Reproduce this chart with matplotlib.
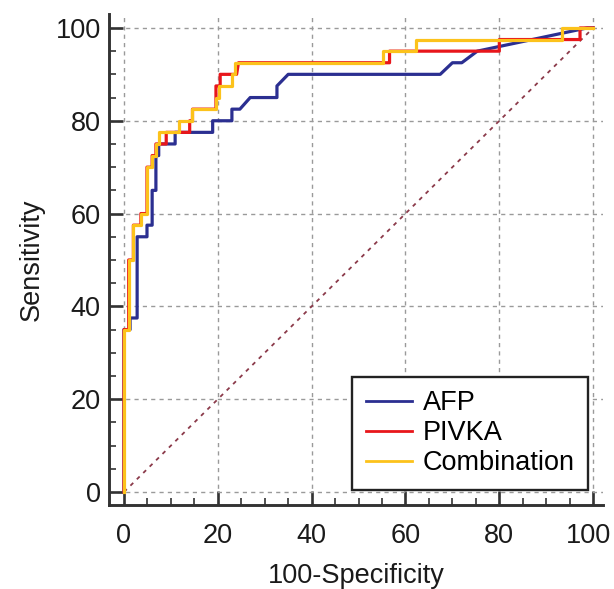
import matplotlib
matplotlib.use('Agg')
import matplotlib.pyplot as plt
import matplotlib.transforms as mtransforms
from matplotlib.ticker import MultipleLocator

plt.rcParams['font.family'] = ['Liberation Sans', 'DejaVu Sans']

# ROC points (100-Specificity, Sensitivity)
afp_x = [0, 0, 1.3, 1.3, 2.8, 2.8, 4.9, 4.9, 6.0, 6.0, 6.8, 6.8, 7.4, 7.4,
         10.9, 10.9, 18.9, 18.9, 23.0, 23.0, 24.7, 26.9, 32.6, 32.6, 35.0,
         67.4, 70.0, 72.0, 75.3, 98.7, 100]
afp_y = [0, 35, 35, 37.5, 37.5, 55, 55, 57.5, 57.5, 65, 65, 72.5, 72.5, 75,
         75, 77.5, 77.5, 80, 80, 82.5, 82.5, 85, 85, 87.5, 90,
         90, 92.5, 92.5, 95, 100, 100]

pivka_x = [0, 0, 1.0, 1.0, 2.0, 2.0, 3.6, 3.6, 4.9, 4.9, 6.0, 6.0, 6.8, 6.8,
           9.0, 9.0, 14.0, 14.0, 14.6, 14.6, 19.6, 19.6, 20.5, 20.5, 24.0,
           24.4, 56.6, 56.6, 80.0, 80.0, 97.2, 97.2, 100]
pivka_y = [0, 35, 35, 50, 50, 57.5, 57.5, 60, 60, 70, 70, 72.5, 72.5, 75,
           75, 77.5, 77.5, 80, 80, 82.5, 82.5, 87.5, 87.5, 90, 90,
           92.5, 92.5, 95, 95, 97.5, 97.5, 100, 100]

comb_x = [0, 0, 1.0, 1.0, 2.0, 2.0, 3.6, 3.6, 4.9, 4.9, 6.0, 6.0, 6.8, 6.8,
          7.5, 7.5, 11.7, 11.7, 14.6, 14.6, 19.6, 19.6, 20.3, 20.3, 23.0,
          23.0, 23.7, 23.7, 55.3, 55.3, 62.3, 62.3, 93.3, 93.3, 100]
comb_y = [0, 35, 35, 50, 50, 57.5, 57.5, 60, 60, 70, 70, 72.5, 72.5, 75,
          75, 77.5, 77.5, 80, 80, 82.5, 82.5, 85, 85, 87.5, 87.5,
          90, 90, 92.5, 92.5, 95, 95, 97.5, 97.5, 100, 100]

labels = ['AFP', 'PIVKA', 'Combination']
colors = ['#2b2f91', '#e8161b', '#fcc21b']
ticks = [0, 20, 40, 60, 80, 100]

fig = plt.figure(figsize=(6.14, 5.89), dpi=100)
ax = fig.add_axes([0.1775, 0.1426, 0.8046, 0.8336])

ax.plot([0, 100], [0, 100], color='#8b3a4a', lw=1.3, ls=(0, (2.2, 2.8)), zorder=2)
ax.plot(afp_x, afp_y, color=colors[0], lw=2.3, label=labels[0], zorder=3)
ax.plot(pivka_x, pivka_y, color=colors[1], lw=2.3, label=labels[1], zorder=4)
ax.plot(comb_x, comb_y, color=colors[2], lw=2.3, label=labels[2], zorder=5)

ax.set_xlim(-3.2, 102.1)
ax.set_ylim(-2.8, 103)
ax.set_xticks(ticks)
ax.set_yticks(ticks)
ax.xaxis.set_minor_locator(MultipleLocator(5))
ax.yaxis.set_minor_locator(MultipleLocator(5))

ax.grid(True, which='major', color='#9a9a9a', lw=1.0, ls=(0, (3, 3)))
ax.set_axisbelow(True)

for side in ['top', 'right']:
    ax.spines[side].set_visible(False)
for side in ['left', 'bottom']:
    ax.spines[side].set_linewidth(2.1)
    ax.spines[side].set_color('#333333')

ax.tick_params(which='major', direction='in', length=10, width=1.9, color='#333333',
               labelsize=19.5, labelcolor='#1a1a1a')
ax.tick_params(which='minor', direction='in', length=5, width=1.2, color='#333333')
ax.tick_params(axis='x', which='major', pad=13)
ax.tick_params(axis='y', which='major', pad=6)

# nudge the last x label so it stays inside the picture
last = ax.get_xticklabels()[-1]
last.set_transform(last.get_transform() + mtransforms.ScaledTranslation(-5 / 100, 0, fig.dpi_scale_trans))

ax.set_xlabel('100-Specificity', fontsize=19.5, color='#1a1a1a', labelpad=10)
ax.set_ylabel('Sensitivity', fontsize=19.5, color='#1a1a1a', labelpad=8)

leg = ax.legend(loc='lower right', bbox_to_anchor=(0.970, 0.0305), fontsize=19.5,
                frameon=True, fancybox=False, edgecolor='#222222', framealpha=1,
                handlelength=1.7, handletextpad=0.4, labelspacing=0.15,
                borderpad=0.5, borderaxespad=0)
leg.get_frame().set_linewidth(1.7)
for line in leg.get_lines():
    line.set_linewidth(2.0)

fig.savefig('out.png', dpi=100)
